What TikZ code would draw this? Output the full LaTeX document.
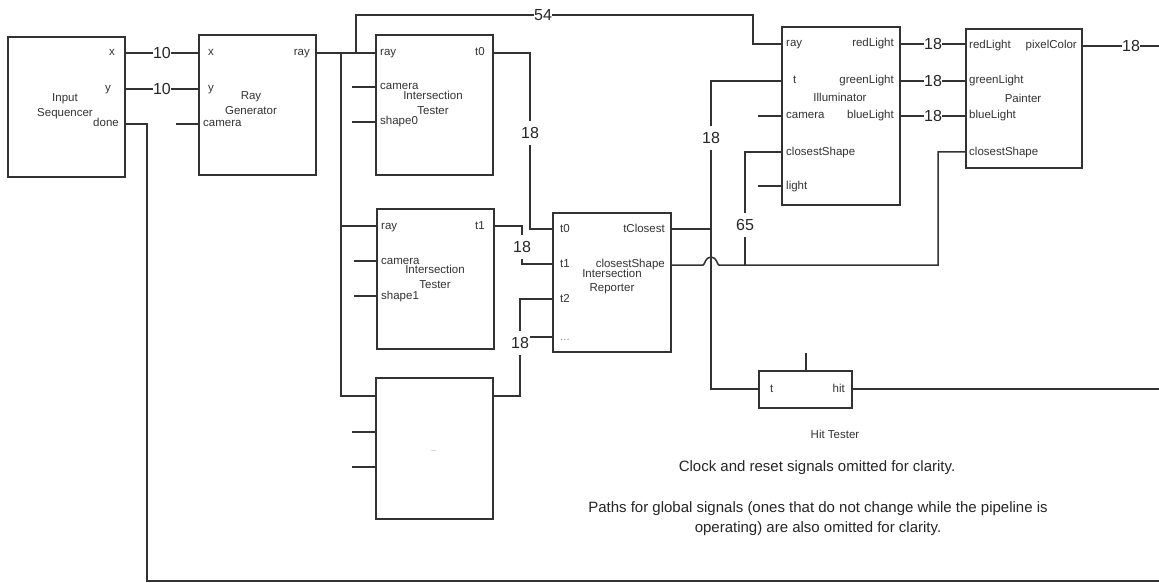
\documentclass[tikz,border=0pt]{standalone}
\usepackage{fontspec}
\setmainfont{Liberation Sans}
\begin{document}
\begin{tikzpicture}[x=1pt,y=-1pt,
  box/.style={draw=black!80, line width=1.5pt, fill=white, inner sep=0pt},
  wire/.style={draw=black!80, line width=1.5pt},
  port/.style={font=\fontsize{11.5}{13.8}\selectfont, text=black!80, inner sep=0pt, text height=6pt, text depth=0pt},
  pl/.style={port, anchor=west},
  pr/.style={port, anchor=east},
  ttl/.style={font=\fontsize{11.5}{15}\selectfont, text=black!80, inner sep=0pt, align=center},
  num/.style={font=\fontsize{16}{18}\selectfont, text=black!85, fill=white, inner xsep=0.5pt, inner ysep=6pt},
  note/.style={font=\fontsize{15}{20}\selectfont, text=black!85, align=center, inner sep=0pt}
]
\fill[white] (0,0) rectangle (1159,583);
\useasboundingbox (0,0) rectangle (1159,583);

% ---------- boxes ----------
\node[box, minimum width=117pt, minimum height=140pt] (inseq) at (66.5,107) {};
\node[box, minimum width=117pt, minimum height=140pt] (raygen) at (257.5,105) {};
\node[box, minimum width=117pt, minimum height=140pt] (it0) at (434.5,105) {};
\node[box, minimum width=117pt, minimum height=140pt] (it1) at (435.5,279) {};
\node[box, minimum width=117pt, minimum height=141pt] (it2) at (434.5,448.5) {};
\node[box, minimum width=118pt, minimum height=139pt] (rep) at (612,282.5) {};
\node[box, minimum width=118pt, minimum height=178pt] (illum) at (841,116) {};
\node[box, minimum width=116pt, minimum height=139pt] (paint) at (1024,98.5) {};
\node[box, minimum width=93pt, minimum height=37pt] (hit) at (805.5,389.5) {};

% ---------- port coordinates ----------
\coordinate (inseq-x) at (125,53);
\coordinate (inseq-y) at (125,89);
\coordinate (inseq-done) at (125,124);
\coordinate (rg-x) at (199,53);
\coordinate (rg-y) at (199,89);
\coordinate (rg-cam) at (199,124);
\coordinate (rg-cam-s) at (176,124);
\coordinate (rg-ray) at (316,53);
\coordinate (it0-ray) at (376,53);
\coordinate (it0-cam) at (376,87);
\coordinate (it0-cam-s) at (352,87);
\coordinate (it0-sh) at (376,122);
\coordinate (it0-sh-s) at (352,122);
\coordinate (it0-t) at (493,53);
\coordinate (it1-ray) at (377,226);
\coordinate (it1-cam) at (377,261);
\coordinate (it1-cam-s) at (354,261);
\coordinate (it1-sh) at (377,296);
\coordinate (it1-sh-s) at (354,296);
\coordinate (it1-t) at (494,226);
\coordinate (it2-in) at (376,396);
\coordinate (it2-a) at (376,432);
\coordinate (it2-a-s) at (352,432);
\coordinate (it2-b) at (376,467);
\coordinate (it2-b-s) at (352,467);
\coordinate (it2-out) at (493,396);
\coordinate (rep-t0) at (553,229);
\coordinate (rep-t1) at (553,264);
\coordinate (rep-t2) at (553,299);
\coordinate (rep-dots) at (553,337);
\coordinate (rep-dots-s) at (530,337);
\coordinate (rep-tc) at (671,229);
\coordinate (rep-cs) at (671,265);
\coordinate (il-ray) at (782,44);
\coordinate (il-t) at (782,81);
\coordinate (il-cam) at (782,116);
\coordinate (il-cam-s) at (758,116);
\coordinate (il-cs) at (782,152);
\coordinate (il-light) at (782,186);
\coordinate (il-light-s) at (758,186);
\coordinate (il-r) at (900,44);
\coordinate (il-g) at (900,81);
\coordinate (il-b) at (900,116);
\coordinate (pa-r) at (966,44);
\coordinate (pa-g) at (966,81);
\coordinate (pa-b) at (966,116);
\coordinate (pa-cs) at (966,152);
\coordinate (pa-pc) at (1082,46);
\coordinate (hit-t) at (759,389);
\coordinate (hit-top) at (806,371);
\coordinate (hit-top-s) at (806,353);
\coordinate (hit-out) at (852,389);
\coordinate (pc-end) at (1159,46);
\coordinate (hit-end) at (1159,389);
\coordinate (done-end) at (1159,581);
\coordinate (j-bus) at (341,53);
\coordinate (j-54) at (356,53);
\coordinate (j-tc) at (711,229);
\coordinate (j-65) at (745,265);

% ---------- wires ----------
\draw[wire] (inseq-x) -- (rg-x);
\draw[wire] (inseq-y) -- (rg-y);
\draw[wire] (inseq-done) -| (147,581) -- (done-end);
\draw[wire] (rg-cam-s) -- (rg-cam);
\draw[wire] (rg-ray) -- (it0-ray);
\draw[wire] (j-bus) |- (it2-in);
\draw[wire] (j-bus |- it1-ray) -- (it1-ray);
\draw[wire] (j-54) |- (753,15) |- (il-ray);
\draw[wire] (it0-cam-s) -- (it0-cam);
\draw[wire] (it0-sh-s) -- (it0-sh);
\draw[wire] (it1-cam-s) -- (it1-cam);
\draw[wire] (it1-sh-s) -- (it1-sh);
\draw[wire] (it2-a-s) -- (it2-a);
\draw[wire] (it2-b-s) -- (it2-b);
\draw[wire] (it0-t) -- (530,53) |- (rep-t0);
\draw[wire] (it1-t) -- (522,226) |- (rep-t1);
\draw[wire] (it2-out) -- (520,396) |- (rep-t2);
\draw[wire] (rep-dots-s) -- (rep-dots);
\draw[wire] (rep-tc) -- (j-tc);
\draw[wire] (il-t) -| (711,389) -- (hit-t);
\draw[wire] (rep-cs) -- (703,265) .. controls (705,265) and (705,257) .. (711,257)
            .. controls (717,257) and (717,265) .. (719,265) -- (938,265) |- (pa-cs);
\draw[wire] (j-65) |- (il-cs);
\draw[wire] (il-cam-s) -- (il-cam);
\draw[wire] (il-light-s) -- (il-light);
\draw[wire] (il-r) -- (pa-r);
\draw[wire] (il-g) -- (pa-g);
\draw[wire] (il-b) -- (pa-b);
\draw[wire] (pa-pc) -- (pc-end);
\draw[wire] (hit-top-s) -- (hit-top);
\draw[wire] (hit-out) -- (hit-end);

% ---------- bus widths ----------
\node[num] (w1) at (162,53) {10};
\node[num] (w2) at (162,89) {10};
\node[num] (w3) at (543,15) {54};
\node[num] (w4) at (530,133) {18};
\node[num] (w5) at (522,247) {18};
\node[num] (w6) at (520,343) {18};
\node[num] (w7) at (711,138) {18};
\node[num] (w8) at (745,225) {65};
\node[num] (w9) at (933,44) {18};
\node[num] (w10) at (933,81) {18};
\node[num] (w11) at (933,116) {18};
\node[num] (w12) at (1131,46) {18};

% ---------- box texts ----------
\node[pr] (l1) at (115,53) {x};
\node[pr] (l2) at (111,89) {y};
\node[pr] (l3) at (119,124) {done};
\node[ttl] (t1) at (65,106) {Input\\Sequencer};

\node[pl] (l4) at (208,53) {x};
\node[pl] (l5) at (208,89) {y};
\node[pl] (l6) at (203,124) {camera};
\node[pr] (l7) at (310,53) {ray};
\node[ttl] (t2) at (251,103.5) {Ray\\Generator};

\node[pl] (l8) at (380,53) {ray};
\node[pr] (l9) at (485,53) {t0};
\node[pl] (l10) at (380,87) {camera};
\node[pl] (l11) at (380,122) {shape0};
\node[ttl] (t3) at (433,103) {Intersection\\Tester};

\node[pl] (l12) at (381,226) {ray};
\node[pr] (l13) at (485,226) {t1};
\node[pl] (l14) at (381,261) {camera};
\node[pl] (l15) at (381,296) {shape1};
\node[ttl] (t4) at (435,277) {Intersection\\Tester};

\node[font=\fontsize{7}{8}\selectfont, text=black!50, inner sep=0pt] (t5) at (434,451) {...};

\node[pl] (l16) at (560,229) {t0};
\node[pl] (l17) at (560,264) {t1};
\node[pl] (l18) at (560,299) {t2};
\node[pl, text=black!45] (l19) at (560,337) {...};
\node[pr] (l20) at (665,229) {tClosest};
\node[pr] (l21) at (665,264) {closestShape};
\node[font=\fontsize{11.5}{14}\selectfont, text=black!80, inner sep=0pt, align=center] (t6) at (612,282) {Intersection\\Reporter};

\node[pl] (l22) at (786,44) {ray};
\node[pl] (l23) at (793,81) {t};
\node[pl] (l24) at (786,116) {camera};
\node[pl] (l25) at (786,152) {closestShape};
\node[pl] (l26) at (786,186) {light};
\node[pr] (l27) at (894,44) {redLight};
\node[pr] (l28) at (894,81) {greenLight};
\node[pr] (l29) at (894,116) {blueLight};
\node[ttl, anchor=base] (t7) at (840,102) {Illuminator};

\node[pl] (l30) at (969,46) {redLight};
\node[pr] (l31) at (1077,46) {pixelColor};
\node[pl] (l32) at (969,81) {greenLight};
\node[pl] (l33) at (969,116) {blueLight};
\node[pl] (l34) at (969,152) {closestShape};
\node[ttl, anchor=base] (t8) at (1023,103) {Painter};

\node[pl] (l35) at (770,389) {t};
\node[pr] (l36) at (845,389) {hit};
\node[ttl] (t9) at (835,434) {Hit Tester};

% ---------- notes ----------
\node[note] (n1) at (817,468) {Clock and reset signals omitted for clarity.};
\node[note] (n2) at (818,519) {Paths for global signals (ones that do not change while the pipeline is\\operating) are also omitted for clarity.};
\end{tikzpicture}
\end{document}
